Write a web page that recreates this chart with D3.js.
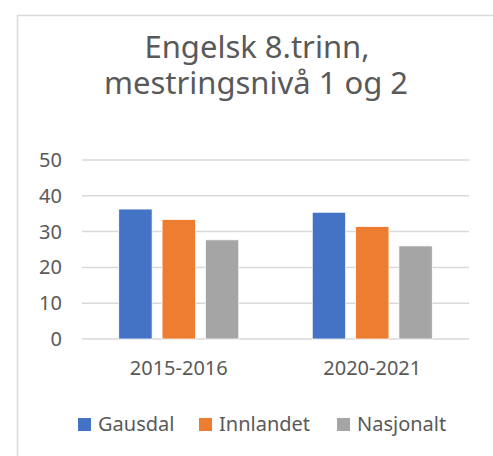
<!DOCTYPE html>
<html>
<head>
<meta charset="utf-8">
<script src="https://cdn.jsdelivr.net/npm/d3@7"></script>
<style>
  body { margin: 0; background: #fff; }
  svg { font-family: "Noto Sans", sans-serif; }
</style>
</head>
<body>
<svg width="493" height="456"></svg>
<script>
var periods = ["2015-2016", "2020-2021"];
var series = ["Gausdal", "Innlandet", "Nasjonalt"];
var gausdal = [36.3, 35.4];
var innlandet = [33.4, 31.4];
var nasjonalt = [27.7, 26.0];
var yTicks = [0, 10, 20, 30, 40, 50];
var colors = ["#4472C4", "#ED7D31", "#A5A5A5"];

var svg = d3.select("svg"),
  width = +svg.attr("width"),
  height = +svg.attr("height");

var margin = {top: 160, left: 82, right: 24, bottom: 117};

// chart frame
svg.append("path")
  .attr("d", "M17.5," + height + "V15.5H" + width)
  .attr("fill", "none")
  .attr("stroke", "#d9d9d9")
  .attr("stroke-width", 1.5);

// title
var title = svg.append("text")
  .attr("text-anchor", "middle")
  .attr("fill", "#595959")
  .style("font-size", "31px");
title.append("tspan").attr("x", 257).attr("y", 58).text("Engelsk 8.trinn,");
title.append("tspan").attr("x", 256).attr("y", 94).text("mestringsnivå 1 og 2");

var rows = periods.map(function(p, i) {
  return {period: p, values: [gausdal[i], innlandet[i], nasjonalt[i]]};
});

var x0 = d3.scaleBand()
  .domain(periods)
  .range([margin.left, width - margin.right]);

var x1 = d3.scaleBand()
  .domain(series)
  .range([0, 120])
  .paddingInner(0.23);

var y = d3.scaleLinear()
  .domain([0, 50])
  .range([height - margin.bottom, margin.top]);

// gridlines
svg.append("g")
  .selectAll("line")
  .data(yTicks)
  .enter().append("line")
  .attr("x1", margin.left)
  .attr("x2", width - margin.right)
  .attr("y1", function(d) { return y(d); })
  .attr("y2", function(d) { return y(d); })
  .attr("stroke", "#d9d9d9")
  .attr("stroke-width", 1.5);

// y axis labels
var yAxis = svg.append("g")
  .attr("transform", "translate(" + (margin.left - 20) + ",0)")
  .call(d3.axisLeft(y).tickValues(yTicks).tickSize(0).tickPadding(0));
yAxis.select(".domain").remove();
yAxis.selectAll("text")
  .attr("fill", "#595959")
  .style("font-size", "20px")
  .style("font-family", "Noto Sans, sans-serif");

// x axis labels
var xAxis = svg.append("g")
  .attr("transform", "translate(0," + y(0) + ")")
  .call(d3.axisBottom(x0).tickSize(0).tickPadding(22));
xAxis.select(".domain").remove();
xAxis.selectAll("text")
  .attr("fill", "#595959")
  .style("font-size", "20px")
  .style("font-family", "Noto Sans, sans-serif");

// bars
var group = svg.append("g")
  .selectAll("g")
  .data(rows)
  .enter().append("g")
  .attr("transform", function(d) {
    return "translate(" + (x0(d.period) + (x0.bandwidth() - 120) / 2) + ",0)";
  });

group.selectAll("rect")
  .data(function(d) { return d.values.map(function(v, i) { return {key: series[i], value: v, i: i}; }); })
  .enter().append("rect")
  .attr("x", function(d) { return x1(d.key); })
  .attr("width", x1.bandwidth())
  .attr("y", function(d) { return y(d.value); })
  .attr("height", function(d) { return y(0) - y(d.value); })
  .attr("fill", function(d) { return colors[d.i]; })
  .attr("stroke", "#fff")
  .attr("stroke-width", 0.75);

// legend
var legendX = [78, 199, 337];
var legend = svg.selectAll(".legend")
  .data(series)
  .enter().append("g")
  .attr("class", "legend")
  .attr("transform", function(d, i) { return "translate(" + legendX[i] + ",418)"; });

legend.append("rect")
  .attr("width", 13)
  .attr("height", 13)
  .attr("fill", function(d, i) { return colors[i]; });

legend.append("text")
  .attr("x", 20)
  .attr("y", 13)
  .attr("fill", "#595959")
  .style("font-size", "20px")
  .text(function(d) { return d; });
</script>
</body>
</html>
